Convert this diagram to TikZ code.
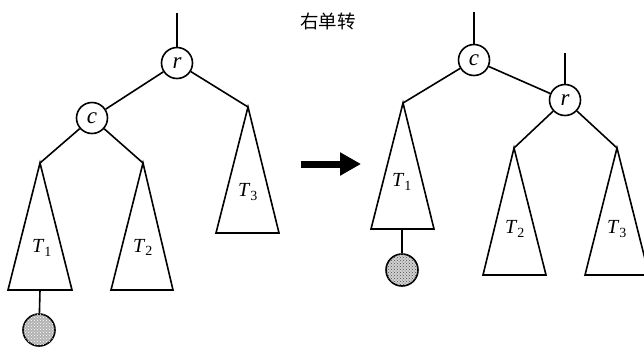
\documentclass[tikz,border=0pt]{standalone}
\usepackage{fontspec}
\setmainfont{Liberation Serif}
\newfontfamily\cjk{Noto Sans CJK SC}
\usetikzlibrary{arrows.meta,patterns}
\tikzset{
  edge/.style={line width=1.6pt},
  keynode/.style={circle,draw,line width=1.6pt,minimum size=31pt,inner sep=0pt,
    font=\fontsize{23}{24}\selectfont\itshape},
  subtree/.style={line width=1.6pt,line join=miter},
  tlabel/.style={font=\fontsize{20}{22}\selectfont,inner sep=0pt},
  ball/.style={circle,draw,line width=1.6pt,minimum size=32pt,inner sep=0pt},
  bigarrow/.style={line width=7pt,-{Triangle[length=21pt,width=22pt]}}
}
\begin{document}
\begin{tikzpicture}[x=1pt,y=-1pt]
\useasboundingbox (0,0) rectangle (644,346);
% title
\node[font=\cjk\fontsize{18.5}{19}\selectfont] (title) at (328,21) {右单转};

% ---------- left tree ----------
\coordinate (Lrtop) at (177,13);
\node[keynode] (Lr) at (177,63) {r};
\node[keynode] (Lc) at (92,118) {c};
\coordinate (LA1) at (40,163);
\coordinate (LA2) at (143,163);
\coordinate (LA3) at (248,107);
\coordinate (LB1) at (40,290);
\draw[edge] (Lrtop) -- (Lr);
\draw[edge] (Lr) -- (Lc);
\draw[edge] (Lr) -- (LA3);
\draw[edge] (Lc) -- (LA1);
\draw[edge] (Lc) -- (LA2);
\draw[subtree] (LA1) -- (72,290) -- (8,290) -- cycle;
\draw[subtree] (LA2) -- (173,290) -- (111,290) -- cycle;
\draw[subtree] (LA3) -- (279,233) -- (216,233) -- cycle;
\node[tlabel] (LT1) at (42,248) {\textit{T}\textsubscript{1}};
\node[tlabel] (LT2) at (143,247) {\textit{T}\textsubscript{2}};
\node[tlabel] (LT3) at (248,192) {\textit{T}\textsubscript{3}};
\node[ball,fill=gray!60,postaction={pattern=crosshatch dots,pattern color=white}] (Lball) at (39,330) {};
\draw[edge] (LB1) -- (Lball);

% ---------- arrow ----------
\coordinate (arrS) at (301,164);
\coordinate (arrE) at (361,164);
\draw[bigarrow] (arrS) -- (arrE);

% ---------- right tree ----------
\coordinate (Rctop) at (474,12);
\coordinate (Rrtop) at (565,53);
\node[keynode] (Rc) at (474,60) {c};
\node[keynode] (Rr) at (565,100) {r};
\coordinate (RA1) at (403,103);
\coordinate (RA2) at (514,148);
\coordinate (RA3) at (617,148);
\coordinate (RB1) at (402,229);
\draw[edge] (Rctop) -- (Rc);
\draw[edge] (Rrtop) -- (Rr);
\draw[edge] (Rc) -- (RA1);
\draw[edge] (Rc) -- (Rr);
\draw[edge] (Rr) -- (RA2);
\draw[edge] (Rr) -- (RA3);
\draw[subtree] (RA1) -- (434,229) -- (371,229) -- cycle;
\draw[subtree] (RA2) -- (546,275) -- (483,275) -- cycle;
\draw[subtree] (RA3) -- (649,275) -- (585,275) -- cycle;
\node[tlabel] (RT1) at (402,182) {\textit{T}\textsubscript{1}};
\node[tlabel] (RT2) at (515,229) {\textit{T}\textsubscript{2}};
\node[tlabel] (RT3) at (617,229) {\textit{T}\textsubscript{3}};
\node[ball,fill=gray!35,postaction={pattern=crosshatch dots,pattern color=black!70}] (Rball) at (402,270) {};
\draw[edge] (RB1) -- (Rball);
\end{tikzpicture}
\end{document}
